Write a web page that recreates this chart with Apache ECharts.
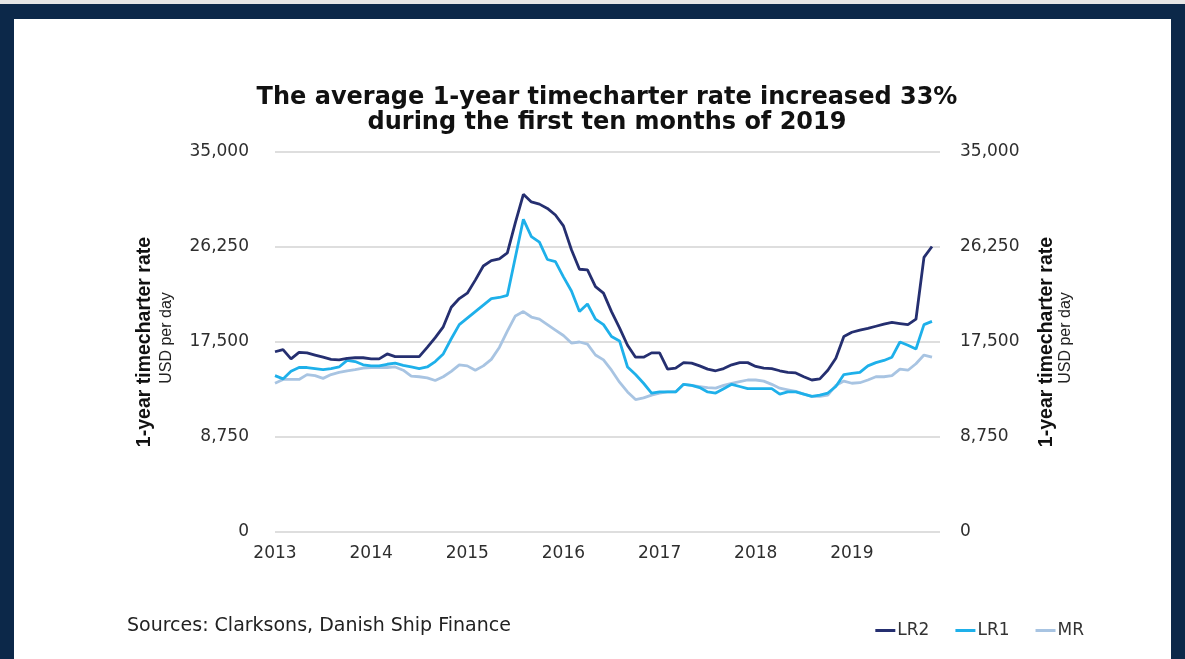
<!DOCTYPE html>
<html>
<head>
<meta charset="utf-8">
<script src="https://cdn.jsdelivr.net/npm/echarts@6/dist/echarts.min.js"></script>
<style>
html,body{margin:0;padding:0;background:#fff;}
#chart{width:1185px;height:659px;}
</style>
</head>
<body>
<div id="chart"></div>
<script>
// ---- data ----
const years = ['2013', '2014', '2015', '2016', '2017', '2018', '2019'];
const yTicks = [0, 8750, 17500, 26250, 35000];
const seriesNames = ['LR2', 'LR1', 'MR'];
const lr2 = [16600,16800,15950,16550,16500,16300,16100,15900,15850,16000,
  16050,16050,15950,15950,16400,16150,16150,16150,16150,17000,
  17900,18900,20700,21500,22000,23200,24500,25000,25150,25700,
  28500,31100,30400,30200,29800,29200,28200,26000,24200,24150,
  22600,22000,20300,18800,17200,16100,16100,16500,16500,15000,
  15100,15600,15550,15300,15000,14850,15050,15400,15600,15600,
  15250,15100,15050,14850,14700,14650,14300,14000,14100,14900,
  16000,18000,18400,18600,18750,18950,19150,19300,19200,19100,
  19600,25300,26300];
const lr1 = [14400,14100,14800,15150,15150,15050,14950,15050,15200,15800,
  15700,15400,15300,15300,15450,15550,15350,15200,15050,15200,
  15700,16400,17800,19100,19700,20300,20900,21500,21600,21800,
  25300,28800,27200,26700,25100,24900,23500,22200,20300,21000,
  19600,19100,18000,17600,15200,14500,13700,12800,12900,12900,
  12900,13600,13500,13300,12900,12800,13200,13600,13400,13200,
  13200,13200,13200,12700,12900,12900,12700,12500,12600,12800,
  13400,14500,14600,14700,15300,15600,15800,16100,17500,17200,
  16850,19100,19400];
const mr = [13700,14050,14050,14050,14500,14400,14150,14500,14700,14850,
  14950,15100,15150,15150,15150,15200,14900,14350,14300,14200,
  13950,14300,14800,15400,15300,14900,15300,15900,17000,18500,
  19900,20300,19800,19600,19100,18600,18100,17400,17500,17300,
  16300,15850,14900,13800,12900,12200,12350,12600,12800,12900,
  12900,13600,13500,13400,13300,13250,13500,13700,13850,14000,
  14000,13900,13600,13250,13100,12950,12700,12500,12500,12600,
  13500,13900,13700,13750,14000,14300,14300,14400,15000,14900,
  15500,16300,16100];
const months = ['01','02','03','04','05','06','07','08','09','10','11','12'];

// monthly category axis built from the year list
const categories = [];
years.forEach(y => months.forEach(m => categories.push(y + '-' + m)));

const colors = ['#252f70', '#1eb0ea', '#a8c4e2'];
const tickFont = '"DejaVu Sans", Verdana, sans-serif';
const navy = '#0c2849';

const chart = echarts.init(document.getElementById('chart'), null, {renderer: 'canvas'});

function yAxisCfg(pos, margin, showSplit) {
  return {
    type: 'value', position: pos, min: yTicks[0], max: yTicks[yTicks.length - 1], interval: 8750,
    axisLine: {show: false}, axisTick: {show: false},
    axisLabel: {
      margin: margin, color: '#2e2e2e', fontSize: 17, fontFamily: tickFont,
      formatter: v => v.toLocaleString('en-US')
    },
    splitLine: {show: showSplit, lineStyle: {color: '#dedede', width: 2}}
  };
}

const option = {
  backgroundColor: '#ffffff',
  animation: false,
  grid: {left: 275, right: 245, top: 152, bottom: 127, containLabel: false},
  xAxis: {
    type: 'category', data: categories, boundaryGap: false,
    axisLine: {show: false}, axisTick: {show: false}, splitLine: {show: false},
    axisLabel: {
      interval: 11, margin: 13, color: '#2e2e2e', fontSize: 17, fontFamily: tickFont,
      formatter: v => v.slice(0, 4)
    }
  },
  yAxis: [yAxisCfg('left', 26, true), yAxisCfg('right', 20, false)],
  legend: {
    data: seriesNames, right: 96, top: 617, icon: 'rect', itemWidth: 20, itemHeight: 3,
    itemGap: 26,
    textStyle: {fontSize: 17, color: '#333', fontFamily: tickFont, padding: [0, 0, 0, -3]}
  },
  series: [lr2, lr1, mr].map((d, i) => ({
    name: seriesNames[i], type: 'line', data: d, yAxisIndex: 0,
    symbol: 'none', smooth: false, z: 10 - i,
    lineStyle: {color: colors[i], width: 2.8},
    itemStyle: {color: colors[i]}
  })),
  graphic: [
    {type: 'rect', shape: {x: 0, y: 0, width: 1185, height: 19}, style: {fill: navy}, z: 100},
    {type: 'rect', shape: {x: 0, y: 0, width: 1185, height: 4}, style: {fill: '#e6e6e6'}, z: 101},
    {type: 'rect', shape: {x: 0, y: 0, width: 14, height: 659}, style: {fill: navy}, z: 100},
    {type: 'rect', shape: {x: 1171, y: 0, width: 14, height: 659}, style: {fill: navy}, z: 100},
    {type: 'text', x: 607, y: 110, z: 100, style: {
      text: 'The average 1-year timecharter rate increased 33%\nduring the first ten months of 2019',
      font: 'bold 24px "DejaVu Sans", sans-serif', fill: '#111', align: 'center', verticalAlign: 'middle',
      lineHeight: 25
    }},
    {type: 'text', x: 145, y: 342, rotation: Math.PI / 2, z: 100, style: {
      text: '1-year timecharter rate', font: 'bold 19.5px "Liberation Sans", sans-serif', fill: '#111',
      align: 'center', verticalAlign: 'middle'
    }},
    {type: 'text', x: 167, y: 338, rotation: Math.PI / 2, z: 100, style: {
      text: 'USD per day', font: '16px "Liberation Sans", sans-serif', fill: '#222',
      align: 'center', verticalAlign: 'middle'
    }},
    {type: 'text', x: 1047, y: 342, rotation: Math.PI / 2, z: 100, style: {
      text: '1-year timecharter rate', font: 'bold 19.5px "Liberation Sans", sans-serif', fill: '#111',
      align: 'center', verticalAlign: 'middle'
    }},
    {type: 'text', x: 1066, y: 338, rotation: Math.PI / 2, z: 100, style: {
      text: 'USD per day', font: '16px "Liberation Sans", sans-serif', fill: '#222',
      align: 'center', verticalAlign: 'middle'
    }},
    {type: 'text', x: 127, y: 626, z: 100, style: {
      text: 'Sources: Clarksons, Danish Ship Finance', font: '19px "DejaVu Sans", sans-serif', fill: '#222',
      align: 'left', verticalAlign: 'middle'
    }}
  ]
};
chart.setOption(option);
</script>
</body>
</html>
